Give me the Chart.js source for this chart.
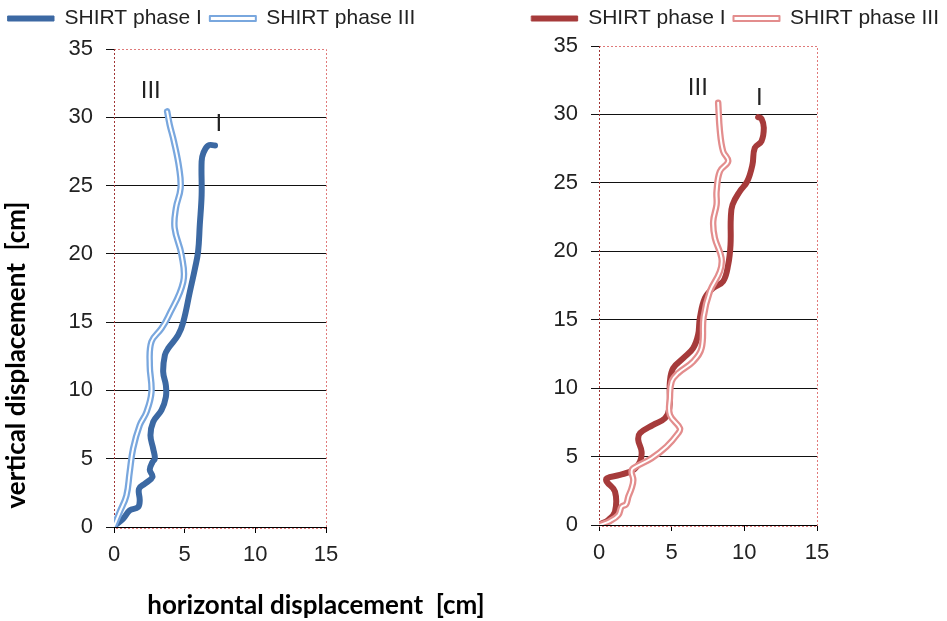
<!DOCTYPE html>
<html>
<head>
<meta charset="utf-8">
<script src="https://cdn.jsdelivr.net/npm/chart.js@4"></script>
<style>
  body { margin: 0; background: #fff; }
  #wrap { position: relative; width: 947px; height: 621px; }
  canvas { position: absolute; top: 0; }
</style>
</head>
<body>
<div id="wrap">
  <canvas id="leftChart" width="520" height="621" style="left:0"></canvas>
  <canvas id="rightChart" width="477" height="621" style="left:470px"></canvas>
</div>
<script>
// series labels
const seriesLabels = ['SHIRT phase I', 'SHIRT phase III'];

// left panel (blue) - horizontal / vertical displacement in cm
const leftPhaseIx = [0, 0.64, 1.11, 1.7, 1.82, 1.77, 2.18, 2.72, 2.53, 2.72, 2.89, 2.77, 2.58, 2.77, 3.36, 3.67, 3.67, 3.48, 3.6, 3.83, 4.54, 4.9, 5.37, 5.73, 5.95, 6.07, 6.2, 6.2, 6.32, 6.67, 7.15];
const leftPhaseIy = [0.07, 0.6, 1.21, 1.45, 1.94, 2.8, 3.17, 3.66, 4.2, 4.75, 5.0, 5.74, 6.71, 7.69, 8.55, 9.52, 10.38, 11.36, 12.58, 13.07, 14.05, 15.0, 17.23, 18.94, 20.16, 22.12, 24.32, 26.77, 27.38, 27.94, 27.94];
const leftPhaseIIIx = [0, 0.4, 0.88, 1.11, 1.35, 1.82, 2.3, 2.65, 2.53, 2.65, 3.36, 3.83, 4.9, 4.78, 4.29, 4.38, 4.71, 4.61, 4.24, 3.94, 3.76];
const leftPhaseIIIy = [0.07, 1.08, 2.31, 4.02, 5.74, 7.45, 8.42, 9.89, 11.85, 13.56, 14.54, 15.39, 17.96, 19.92, 21.88, 23.35, 24.81, 26.28, 28.23, 29.46, 30.43];

// right panel (red)
const rightPhaseIx = [0.07, 0.64, 1.1, 1.1, 0.53, 0.53, 1.44, 2.36, 2.82, 2.93, 2.7, 2.82, 3.73, 4.54, 4.84, 4.88, 5.1, 5.8, 6.48, 6.82, 6.94, 7.29, 7.86, 8.54, 8.89, 9.05, 9.07, 9.19, 9.69, 10.2, 10.56, 10.72, 11.18, 11.34, 11.18, 10.95];
const rightPhaseIy = [0.05, 0.37, 0.97, 2.44, 3.17, 3.41, 3.66, 4.02, 4.63, 5.36, 6.22, 6.71, 7.32, 7.8, 8.54, 10.48, 11.46, 12.19, 12.93, 13.9, 15.12, 16.58, 17.32, 17.8, 19.02, 20.48, 22.44, 23.41, 24.38, 25.11, 26.34, 27.56, 28.04, 29.02, 29.7, 29.8];
const rightPhaseIIIx = [0.07, 0.76, 1.33, 1.56, 1.86, 2.02, 2.24, 2.36, 2.24, 2.36, 3.62, 4.65, 5.45, 5.57, 4.88, 4.88, 5.0, 5.45, 6.48, 7.06, 7.2, 7.63, 8.32, 8.43, 7.97, 7.86, 8.09, 8.09, 8.32, 8.89, 8.54, 8.32, 8.2];
const rightPhaseIIIy = [0, 0.29, 0.73, 1.34, 1.51, 2.07, 2.68, 3.29, 3.9, 4.15, 4.88, 5.73, 6.71, 7.07, 8.05, 9.27, 10.48, 11.1, 11.95, 12.93, 15.2, 17.07, 18.53, 19.51, 20.97, 22.19, 23.41, 24.38, 25.84, 26.58, 27.31, 28.77, 30.85];

// curve tags
const markText = ['III', 'I'];
const leftMarkX = [2.6, 7.41];
const leftMarkY = [31.9, 29.45];
const rightMarkX = [6.8, 11.04];
const rightMarkY = [31.9, 31.2];

// axes
const xMin = 0, xMax = 15, xStep = 5;
const yMin = 0, yMax = 35, yStep = 5;

const FONT = "'Liberation Sans', Arial, sans-serif";
const TITLE_FONT = "bold 26px Lato, 'Liberation Sans', sans-serif";

function toPoints(xs, ys) {
    return xs.map((x, i) => ({ x: x, y: ys[i] }));
}

// dotted plot frame, curve tags and the axis titles
const decor = {
    id: 'decor',
    beforeDatasetsDraw(chart) {
        const a = chart.chartArea;
        const c = chart.ctx;
        c.save();
        c.lineWidth = 1;
        c.setLineDash([2, 2]);
        c.strokeStyle = '#e07a7a';
        c.beginPath();
        c.moveTo(a.left, Math.round(a.top) + 0.5);
        c.lineTo(Math.round(a.right) + 0.5, Math.round(a.top) + 0.5);
        c.lineTo(Math.round(a.right) + 0.5, Math.round(a.bottom) + 1.5);
        c.lineTo(a.left, Math.round(a.bottom) + 1.5);
        c.stroke();
        c.strokeStyle = '#a03434';
        c.beginPath();
        c.moveTo(Math.round(a.left) + 0.5, a.top);
        c.lineTo(Math.round(a.left) + 0.5, a.bottom);
        c.stroke();
        c.restore();
    },
    afterDatasetsDraw(chart, args, opts) {
        const c = chart.ctx;
        const sx = chart.scales.x, sy = chart.scales.y;
        c.save();
        c.fillStyle = '#222';
        c.font = '24px ' + FONT;
        c.textAlign = 'center';
        c.textBaseline = 'middle';
        opts.marks.forEach((t, i) => {
            c.fillText(t, sx.getPixelForValue(opts.markX[i]), sy.getPixelForValue(opts.markY[i]));
        });
        (opts.titles || []).forEach(t => {
            c.save();
            c.font = TITLE_FONT;
            c.fillStyle = '#000';
            c.translate(t.x, t.y);
            c.rotate(t.rot || 0);
            c.fillText(t.text, 0, 0);
            c.restore();
        });
        c.restore();
    }
};

function buildChart(id, o) {
    const inner = toPoints(o.iiiX, o.iiiY);
    return new Chart(document.getElementById(id), {
        type: 'scatter',
        data: {
            datasets: [{
                label: seriesLabels[0],
                data: toPoints(o.iX, o.iY),
                borderColor: o.dark,
                backgroundColor: o.dark,
                borderWidth: 6,
                legendFill: o.dark, legendStroke: o.dark, legendLine: 1,
                order: 3
            }, {
                label: seriesLabels[1],
                data: inner,
                borderColor: o.light,
                backgroundColor: '#fff',
                borderWidth: 6.5,
                legendFill: '#fff', legendStroke: o.light, legendLine: 2,
                order: 2
            }, {
                label: '',
                data: inner,
                borderColor: '#fff',
                backgroundColor: '#fff',
                borderWidth: 2,
                order: 1
            }]
        },
        options: {
            responsive: false,
            animation: false,
            showLine: true,
            elements: {
                point: { radius: 0, hoverRadius: 0 },
                line: { tension: 0.4, borderCapStyle: 'round', borderJoinStyle: 'round' }
            },
            layout: { padding: 0 },
            plugins: {
                tooltip: { enabled: false },
                // empty spacer between the legend and the plot
                title: { display: true, text: [], weight: 500, padding: { top: 0, bottom: o.gap } },
                legend: {
                    position: 'top',
                    align: o.legendAlign,
                    labels: {
                        boxWidth: 46,
                        boxHeight: 5,
                        padding: 8,
                        color: '#222',
                        font: { family: FONT, size: 21 },
                        filter: item => item.text !== '',
                        sort: (a, b) => a.datasetIndex - b.datasetIndex,
                        generateLabels: chart => {
                            const items = Chart.defaults.plugins.legend.labels.generateLabels(chart);
                            items.forEach(it => {
                                const ds = chart.data.datasets[it.datasetIndex];
                                it.fillStyle = ds.legendFill;
                                it.strokeStyle = ds.legendStroke;
                                it.lineWidth = ds.legendLine;
                            });
                            return items;
                        }
                    }
                },
                decor: {
                    marks: markText,
                    markX: o.markX,
                    markY: o.markY,
                    titles: o.titles
                }
            },
            scales: {
                x: {
                    type: 'linear',
                    min: xMin, max: xMax,
                    afterFit: s => { s.height = o.xAxisH; },
                    ticks: { stepSize: xStep, padding: 9, color: '#222', font: { family: FONT, size: 22 } },
                    grid: { drawOnChartArea: false, tickLength: 6, tickColor: '#000' },
                    border: { color: '#000', width: 1 }
                },
                y: {
                    type: 'linear',
                    min: yMin, max: yMax,
                    afterFit: s => { s.width = o.yAxisW; },
                    ticks: { stepSize: yStep, padding: 13, color: '#222', font: { family: FONT, size: 22 } },
                    grid: {
                        color: c => (c.tick && c.tick.value === yMax) ? 'rgba(0,0,0,0)' : '#111',
                        tickColor: '#111',
                        tickLength: 8
                    },
                    border: { display: false }
                },
                yPad: {
                    type: 'linear',
                    position: 'right',
                    afterFit: s => { s.width = o.rightW; },
                    ticks: { display: false },
                    grid: { display: false },
                    border: { display: false }
                }
            }
        },
        plugins: [decor]
    });
}

buildChart('leftChart', {
    iX: leftPhaseIx, iY: leftPhaseIy, iiiX: leftPhaseIIIx, iiiY: leftPhaseIIIy,
    dark: '#3c69a3', light: '#79a7de',
    markX: leftMarkX, markY: leftMarkY,
    legendAlign: 'start',
    gap: 10, xAxisH: 94, yAxisW: 114, rightW: 194,
    titles: [
        { text: 'vertical displacement  [cm]', x: 17, y: 355, rot: -Math.PI / 2 },
        { text: 'horizontal displacement  [cm]', x: 316, y: 606, rot: 0 }
    ]
});

buildChart('rightChart', {
    iX: rightPhaseIx, iY: rightPhaseIy, iiiX: rightPhaseIIIx, iiiY: rightPhaseIIIy,
    dark: '#a63b3b', light: '#e38d8d',
    markX: rightMarkX, markY: rightMarkY,
    legendAlign: 'end',
    gap: 7, xAxisH: 96, yAxisW: 129, rightW: 130,
    titles: []
});
</script>
</body>
</html>
